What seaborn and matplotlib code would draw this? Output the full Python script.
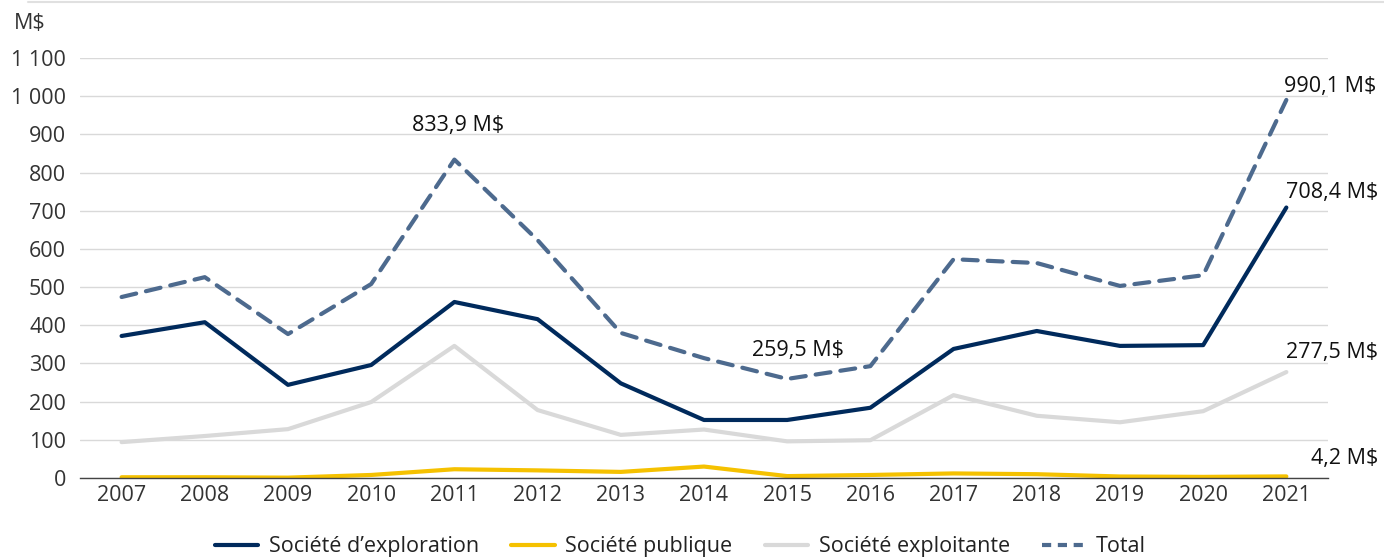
import numpy as np
import pandas as pd
import matplotlib
matplotlib.use("Agg")
import matplotlib.pyplot as plt
import seaborn as sns
from matplotlib.lines import Line2D

# --- données (M$) ---
annees = [2007, 2008, 2009, 2010, 2011, 2012, 2013, 2014, 2015, 2016, 2017, 2018, 2019, 2020, 2021]
exploration = [372, 408, 244, 296, 461, 416, 248, 152, 152, 184, 338, 385, 346, 348, 708.4]
publique = [2, 2, 1, 8, 23, 20, 16, 30, 5, 8, 12, 10, 4, 3, 4.2]
exploitante = [94, 110, 128, 199, 346, 178, 113, 127, 96, 99, 217, 163, 146, 175, 277.5]
total = [474, 526, 377, 508, 833.9, 623, 380, 314, 259.5, 293, 573, 563, 503, 531, 990.1]

series = ["Société d’exploration", "Société publique", "Société exploitante", "Total"]
couleurs = ["#002a5c", "#f5c100", "#d9d9d9", "#4d6a8e"]

sns.set_theme(style="white")
plt.rcParams["font.family"] = ["Open Sans", "DejaVu Sans"]

df = pd.DataFrame({
    "pos": list(range(len(annees))) * 4,
    "valeur": exploration + publique + exploitante + total,
    "serie": np.repeat(series, len(annees)),
})

fig = plt.figure(figsize=(13.84, 5.57), dpi=100)
ax = fig.add_axes([0.0578, 0.1418, 0.9017, 0.7541])

sns.lineplot(data=df, x="pos", y="valeur", hue="serie", style="serie",
             hue_order=series, style_order=series,
             palette=dict(zip(series, couleurs)),
             dashes={series[0]: "", series[1]: "", series[2]: "", series[3]: (3.6, 2.4)},
             linewidth=3, ax=ax, legend=False)
for ln in ax.get_lines():
    ln.set_dash_capstyle("round")

ax.set_xlim(-0.5, len(annees) - 0.5)
ax.set_ylim(0, 1100)
ax.set_yticks(range(0, 1101, 100))
ax.set_yticklabels([f"{v:,}".replace(",", " ") for v in range(0, 1101, 100)])
ax.set_xticks(range(len(annees)))
ax.set_xticklabels([str(a) for a in annees])
ax.set_xticks(np.arange(-0.5, len(annees), 1), minor=True)
ax.tick_params(axis="x", which="major", length=0, labelsize=15.5, colors="#333333", pad=5)
ax.tick_params(axis="x", which="minor", length=5, width=1, color="#333333", direction="out")
ax.tick_params(axis="y", length=0, labelsize=15.5, colors="#333333", pad=10)
ax.set_xlabel("")
ax.set_ylabel("")
ax.grid(axis="y", color="#d9d9d9", linewidth=1)
ax.set_axisbelow(True)
for s in ["left", "top", "right"]:
    ax.spines[s].set_visible(False)
ax.spines["bottom"].set_color("#444444")
ax.spines["bottom"].set_linewidth(1)

fig.text(0.010, 0.957, "M$", fontsize=15.5, color="#333333", va="center", ha="left")

# étiquettes de valeurs
fs = 15.5
ax.annotate("833,9 M$", (4, total[4]), xytext=(3, 17), textcoords="offset points",
            ha="center", va="bottom", fontsize=fs, color="#111111")
ax.annotate("259,5 M$", (8, total[8]), xytext=(8, 13), textcoords="offset points",
            ha="center", va="bottom", fontsize=fs, color="#111111")
ax.annotate("990,1 M$", (14, total[14]), xytext=(-2, 10), textcoords="offset points",
            ha="left", va="center", fontsize=fs, color="#111111")
ax.annotate("708,4 M$", (14, exploration[14]), xytext=(0, 11), textcoords="offset points",
            ha="left", va="center", fontsize=fs, color="#111111")
ax.annotate("277,5 M$", (14, exploitante[14]), xytext=(0, 14), textcoords="offset points",
            ha="left", va="center", fontsize=fs, color="#111111")
ax.annotate("4,2 M$", (14, publique[14]), xytext=(18, 13), textcoords="offset points",
            ha="left", va="center", fontsize=fs, color="#111111")

# légende
poignees = [Line2D([0], [0], color=c, lw=3) for c in couleurs[:3]]
poignees.append(Line2D([0], [0], color=couleurs[3], lw=3, linestyle=(0, (2.2, 1.6))))
fig.legend(poignees, series, loc="lower center", ncol=4, frameon=False,
           bbox_to_anchor=(0.4917, -0.035), fontsize=15.5, handlelength=2.0,
           handletextpad=0.5, columnspacing=1.5, labelcolor="#222222")

fig.add_artist(Line2D([0.02, 1.0], [0.997, 0.997], color="#e0e0e0", lw=1.5,
                      transform=fig.transFigure))

fig.savefig("out.png", dpi=100)
